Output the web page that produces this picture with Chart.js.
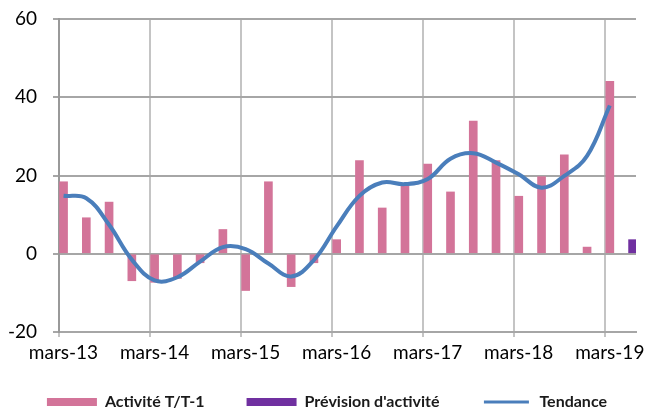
<!DOCTYPE html>
<html>
<head>
<meta charset="utf-8">
<script src="https://cdn.jsdelivr.net/npm/chart.js@4"></script>
<style>
  html, body { margin: 0; padding: 0; background: #fff; }
  #wrap { width: 649px; height: 412px; }
</style>
</head>
<body>
<div id="wrap"><canvas id="activityChart"></canvas></div>
<script>
// trimestres, de mars-13 à juin-19
const quarters = [
  'mars-13', 'juin-13', 'sept.-13', 'déc.-13',
  'mars-14', 'juin-14', 'sept.-14', 'déc.-14',
  'mars-15', 'juin-15', 'sept.-15', 'déc.-15',
  'mars-16', 'juin-16', 'sept.-16', 'déc.-16',
  'mars-17', 'juin-17', 'sept.-17', 'déc.-17',
  'mars-18', 'juin-18', 'sept.-18', 'déc.-18',
  'mars-19', 'juin-19'
];

const activite = [
  18.4, 9.2, 13.2, -6.9,
  -7.3, -6.3, -2.3, 6.2,
  -9.4, 18.4, -8.4, -2.3,
  3.6, 23.8, 11.7, 17.4,
  22.9, 15.8, 33.9, 23.8,
  14.7, 19.7, 25.3, 1.7,
  44.1, null
];

const prevision = [
  null, null, null, null, null, null, null, null, null, null, null, null, null,
  null, null, null, null, null, null, null, null, null, null, null, null,
  3.6
];

const tendance = [
  14.8, 14.2, 7.4, -1.5,
  -6.8, -6.0, -2.0, 1.7,
  1.2, -2.5, -5.8, -1.6,
  7.0, 14.8, 18.2, 17.8,
  19.1, 24.3, 25.7, 23.3,
  20.3, 16.9, 19.9, 25.0,
  37.9, null
];

const yTicks = [-20, 0, 20, 40, 60];
const yearTicks = ['mars-13', 'mars-14', 'mars-15', 'mars-16', 'mars-17', 'mars-18', 'mars-19'];

const toPoints = arr => arr.map((v, i) => ({ x: i, y: v }));

const FONT = 'Lato';

// the x labels would be clipped to the (thin) axis box, give them room down to the legend
const labelRoom = {
  id: 'labelRoom',
  afterLayout(c) { c.scales.x.bottom = c.height; }
};

const ctx = document.getElementById('activityChart').getContext('2d');
const chart = new Chart(ctx, {
  type: 'bar',
  data: {
    datasets: [
      { label: 'Activité T/T-1', data: toPoints(activite), backgroundColor: '#d37499', grouped: false, barThickness: 8, order: 1 },
      { label: "Prévision d'activité", data: toPoints(prevision), backgroundColor: '#7030a0', grouped: false, barThickness: 8, order: 1 },
      { label: 'Tendance', data: toPoints(tendance), type: 'line', borderColor: '#4a7ebb', backgroundColor: '#4a7ebb',
        borderWidth: 4, pointRadius: 0, tension: 0.4, fill: false, order: 0 }
    ]
  },
  plugins: [labelRoom],
  options: {
    responsive: true,
    maintainAspectRatio: false,
    animation: false,
    layout: { padding: { top: 19, right: 0, left: 0, bottom: -8 } },
    scales: {
      x: {
        type: 'linear',
        offset: false,
        min: -0.2,
        max: 25.15,
        afterBuildTicks: scale => {
          scale.ticks = yearTicks.map(l => ({ value: quarters.indexOf(l) - 0.2 }));
        },
        afterFit: scale => { scale.height = 20; scale.paddingLeft = 0; scale.paddingRight = 13; },
        ticks: {
          autoSkip: false,
          maxRotation: 0,
          labelOffset: 4.5,
          padding: 4,
          color: '#000',
          font: { family: FONT, size: 19 },
          callback: v => quarters[Math.round(v + 0.2)]
        },
        grid: { offset: false, color: '#c4c4c4', lineWidth: 2, tickLength: 5 },
        border: { color: '#a6a6a6', width: 2 }
      },
      y: {
        min: -20,
        max: 60,
        afterBuildTicks: scale => { scale.ticks = yTicks.map(v => ({ value: v })); },
        afterFit: scale => { scale.width = 59; scale.paddingTop = 0; scale.paddingBottom = 0; },
        ticks: { color: '#000', padding: 16, font: { family: FONT, size: 19 } },
        grid: { color: '#a6a6a6', lineWidth: 2, tickLength: 6 },
        border: { color: '#999', width: 2 }
      }
    },
    plugins: {
      tooltip: { enabled: false },
      legend: {
        position: 'bottom',
        align: 'end',
        labels: {
          boxWidth: 50,
          boxHeight: 8,
          padding: 42,
          color: '#1a1a1a',
          font: { family: FONT, size: 16, weight: 'bold' },
          sort: (a, b) => a.datasetIndex - b.datasetIndex,
          generateLabels: c => {
            const items = Chart.defaults.plugins.legend.labels.generateLabels(c);
            items.forEach(it => {
              if (c.data.datasets[it.datasetIndex].type === 'line') {
                it.strokeStyle = '#fff';
                it.lineWidth = 5;
              } else {
                it.lineWidth = 0;
              }
            });
            return items;
          }
        }
      }
    }
  }
});
</script>
</body>
</html>
